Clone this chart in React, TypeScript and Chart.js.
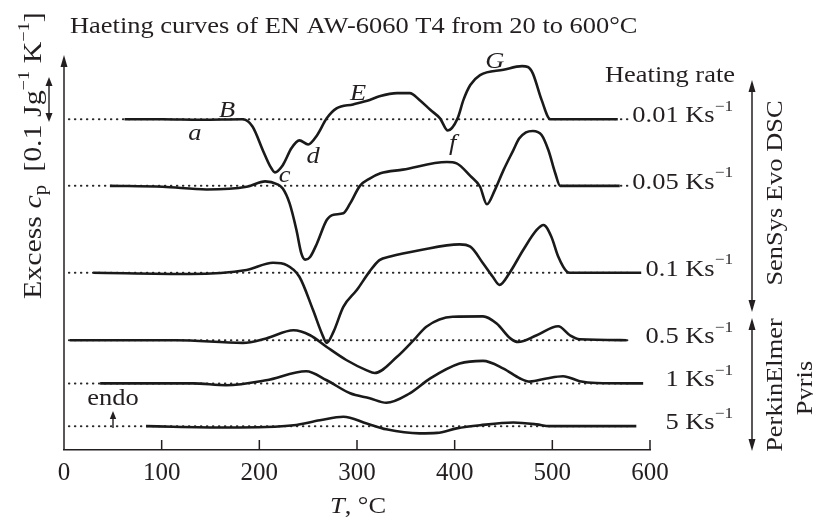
import React, { useEffect, useRef } from 'react';
import { Chart, registerables } from 'chart.js';

Chart.register(...registerables);

// Heating rates (K/s) and vertical offset of each curve's zero line (units of 0.01 J g^-1 K^-1)
const RATES = ['0.01', '0.05', '0.1', '0.5', '1', '5'];
const OFFSETS = [73.5, 58.7, 39.4, 24.4, 14.8, 5.3];
const X_TICKS = [0, 100, 200, 300, 400, 500, 600];
const BASELINE_T = [5, 578];

// Excess cp (0.01 J g^-1 K^-1) vs temperature (°C)
const T_001 = [62, 100, 140, 183, 193, 204, 211, 216, 224, 233, 241, 250, 259, 269, 279, 296, 313, 323, 341, 354, 364, 375, 385, 393, 403, 409, 416, 426, 450, 469, 475, 480, 489, 498, 520, 567];
const CP_001 = [0, 0, -0.1, 0, -1.6, -7.1, -10.4, -11.8, -10.2, -6.4, -4.7, -5.6, -3.6, 0.2, 2.4, 3.3, 4.3, 5.1, 5.8, 5.8, 4.3, 2.1, 0.2, -2.5, 0.2, 4.3, 7.6, 9.8, 11, 11.8, 11.6, 10.2, 4.3, 0, 0, 0];

const T_005 = [47, 101, 146, 187, 206, 218, 224, 231, 238, 243, 247, 252, 259, 269, 276, 286, 293, 303, 313, 324, 347, 392, 402, 416, 426, 433, 441, 450, 460, 466, 473, 480, 489, 496, 503, 508, 569];
const CP_005 = [0, -0.2, -0.8, -0.2, 1, 0.4, -0.6, -3.9, -9.8, -15, -16.4, -15.8, -12.8, -7.6, -6.4, -6.1, -3.9, 0, 1.6, 2.8, 3.6, 5.3, 5, 2.2, -0.2, -4.1, -1, 3.5, 7.9, 10.5, 11.9, 12.2, 11.3, 7.9, 2.8, 0, 0];

const T_01 = [30, 129, 187, 214, 228, 241, 255, 264, 269, 276, 286, 300, 313, 323, 334, 364, 405, 416, 429, 439, 446, 456, 470, 484, 491, 499, 506, 515, 518, 591];
const CP_01 = [0, -0.3, 0.6, 2.2, 1.7, -0.9, -8.3, -13.5, -15.6, -13.1, -7.6, -3.8, 0.3, 2.8, 3.6, 5, 6.3, 5.8, 2.1, -0.9, -2.7, -0.1, 5, 9.5, 10.6, 8, 3.6, 0.2, 0, 0];

const T_05 = [6, 115, 183, 207, 235, 252, 269, 289, 310, 318, 341, 358, 371, 398, 429, 443, 457, 465, 484, 506, 518, 528, 576];
const CP_05 = [0, 0, -0.6, 0.4, 2.2, 1.1, -1.5, -4.4, -6.7, -7.3, -3.7, 0, 3, 5.2, 5.3, 3.7, 0.4, -0.4, 1.1, 3.1, 1.1, 0.2, 0];

const T_1 = [37, 132, 166, 207, 248, 269, 293, 313, 330, 354, 375, 405, 429, 450, 467, 477, 494, 511, 528, 545, 593];
const CP_1 = [0, 0, -0.4, 0.7, 2.7, 0.7, -2.2, -3.3, -4.3, -2.2, 1.1, 4.4, 5, 3.3, 1.1, 0.4, 1.1, 1.6, 0.5, 0.1, 0];

const T_5 = [84, 166, 207, 235, 262, 286, 310, 330, 364, 382, 402, 426, 460, 484, 497, 586];
const CP_5 = [0, -0.3, -0.2, 0.2, 1.3, 2.1, 0.6, -0.7, -1.6, -1.5, -0.5, 0.2, 0.8, 0.4, 0, 0];

const CURVE_T = [T_001, T_005, T_01, T_05, T_1, T_5];
const CURVE_CP = [CP_001, CP_005, CP_01, CP_05, CP_1, CP_5];

// Feature letters on the 0.01 K/s curve
const LETTERS = ['a', 'B', 'c', 'd', 'E', 'f', 'G'];
const LETTER_T = [134, 167, 226, 255, 301, 398, 441];
const LETTER_Y = [68.9, 74, 59.6, 63.8, 77.8, 66.7, 84.9];

const INK = '#231f20';
const SERIF = '"Liberation Serif", "Times New Roman", serif';
const FS = 23;

type Seg = { t: string; it?: boolean; sc?: number; up?: number };

function rich(
  ctx: CanvasRenderingContext2D,
  segs: Seg[],
  x: number,
  y: number,
  size: number,
  align: 'left' | 'center' | 'right',
  rot = 0,
  sx = 1.15
) {
  ctx.save();
  ctx.translate(x, y);
  if (rot) ctx.rotate(rot);
  ctx.scale(sx, 1);
  ctx.textBaseline = 'alphabetic';
  ctx.textAlign = 'left';
  const font = (s: Seg) => `${s.it ? 'italic ' : ''}${Math.round(size * (s.sc || 1))}px ${SERIF}`;
  let w = 0;
  for (const s of segs) {
    ctx.font = font(s);
    w += ctx.measureText(s.t).width;
  }
  let cx = align === 'left' ? 0 : align === 'center' ? -w / 2 : -w;
  for (const s of segs) {
    ctx.font = font(s);
    ctx.fillText(s.t, cx, -(s.up || 0) * size);
    cx += ctx.measureText(s.t).width;
  }
  ctx.restore();
}

function head(ctx: CanvasRenderingContext2D, x: number, y: number, dir: number, len: number, half: number) {
  ctx.beginPath();
  ctx.moveTo(x, y);
  ctx.lineTo(x - half, y - dir * len);
  ctx.lineTo(x + half, y - dir * len);
  ctx.closePath();
  ctx.fill();
}

function dblArrow(ctx: CanvasRenderingContext2D, x: number, y1: number, y2: number, len: number, half: number) {
  ctx.beginPath();
  ctx.moveTo(x, y1 + len * 0.7);
  ctx.lineTo(x, y2 - len * 0.7);
  ctx.stroke();
  head(ctx, x, y1, -1, len, half);
  head(ctx, x, y2, 1, len, half);
}

const decor = {
  id: 'decor',
  afterDraw(chart: any) {
    const { ctx, chartArea: ca, scales } = chart;
    const xs = scales.x;
    const ys = scales.y;
    ctx.save();
    ctx.fillStyle = INK;
    ctx.strokeStyle = INK;
    ctx.lineWidth = 1.5;

    // y axis with arrow
    ctx.beginPath();
    ctx.moveTo(ca.left, ca.bottom);
    ctx.lineTo(ca.left, ca.top + 8);
    ctx.stroke();
    head(ctx, ca.left, ca.top + 1, -1, 12, 3.5);

    // inward tick marks
    for (const v of X_TICKS.slice(1)) {
      const px = xs.getPixelForValue(v);
      ctx.beginPath();
      ctx.moveTo(px, ca.bottom);
      ctx.lineTo(px, ca.bottom - 10);
      ctx.stroke();
    }

    // title
    rich(ctx, [{ t: 'Haeting curves of EN AW-6060 T4 from 20 to 600°C' }], 70, 33, FS, 'left');

    // x title
    rich(ctx, [{ t: 'T', it: true }, { t: ', °C' }], 358, 513, FS, 'center');

    // y title
    rich(ctx, [{ t: 'Excess ' }, { t: 'c', it: true }, { t: 'p', sc: 0.68, up: -0.2 }], 41, 242, 26, 'center', -Math.PI / 2);
    rich(
      ctx,
      [{ t: '[0.1 Jg' }, { t: '−1', sc: 0.62, up: 0.45 }, { t: ' K' }, { t: '−1', sc: 0.62, up: 0.45 }, { t: ']' }],
      41,
      92,
      26,
      'center',
      -Math.PI / 2
    );

    // scale bar
    ctx.lineWidth = 1.4;
    dblArrow(ctx, 49, 77, 122, 9, 3.5);

    // letters
    LETTERS.forEach((l, i) => {
      rich(ctx, [{ t: l, it: true }], xs.getPixelForValue(LETTER_T[i]), ys.getPixelForValue(LETTER_Y[i]), FS, 'center');
    });

    // heating-rate labels
    rich(ctx, [{ t: 'Heating rate' }], 735, 82, FS, 'right');
    RATES.forEach((r, i) => {
      rich(ctx, [{ t: r + ' Ks' }, { t: '−1', sc: 0.65, up: 0.5 }], 733, ys.getPixelForValue(OFFSETS[i]) + 3, FS, 'right');
    });

    // instrument arrows and labels
    ctx.lineWidth = 1.5;
    dblArrow(ctx, 752, 80, 312, 12, 3.5);
    dblArrow(ctx, 752, 318, 451, 12, 3.5);
    rich(ctx, [{ t: 'SenSys Evo DSC' }], 782, 193, FS, 'center', -Math.PI / 2);
    rich(ctx, [{ t: 'PerkinElmer' }], 782, 385, FS, 'center', -Math.PI / 2);
    rich(ctx, [{ t: 'Pyris' }], 812, 388, FS, 'center', -Math.PI / 2);

    // endo marker
    rich(ctx, [{ t: 'endo' }], 113, 405, FS, 'center');
    ctx.lineWidth = 1.4;
    ctx.beginPath();
    ctx.moveTo(113, 428);
    ctx.lineTo(113, 416);
    ctx.stroke();
    head(ctx, 113, 411, -1, 8, 3.2);

    ctx.restore();
  },
};

export default function App() {
  const ref = useRef<HTMLCanvasElement>(null);

  useEffect(() => {
    if (!ref.current) return;
    const baselines = OFFSETS.map((off) => ({
      data: BASELINE_T.map((t) => ({ x: t, y: off })),
      borderColor: '#2a2a2a',
      borderWidth: 2,
      borderDash: [0.5, 5.5],
      borderCapStyle: 'round' as const,
      pointRadius: 0,
      order: 2,
    }));
    const curves = CURVE_T.map((ts, k) => ({
      data: ts.map((t, i) => ({ x: t, y: OFFSETS[k] + CURVE_CP[k][i] })),
      borderColor: '#1a1a1a',
      borderWidth: 2.6,
      pointRadius: 0,
      cubicInterpolationMode: 'monotone' as const,
      order: 1,
    }));
    const chart = new Chart(ref.current, {
      type: 'line',
      data: { datasets: [...baselines, ...curves] as any },
      options: {
        responsive: false,
        animation: false,
        events: [],
        layout: { padding: { left: 64, right: 163, top: 54, bottom: 21 } },
        plugins: { legend: { display: false }, tooltip: { enabled: false } },
        scales: {
          x: {
            type: 'linear',
            min: 0,
            max: 600,
            afterBuildTicks: (s: any) => {
              s.ticks = X_TICKS.map((v) => ({ value: v }));
            },
            grid: { display: false, drawTicks: false },
            border: { display: true, color: INK, width: 1.5 },
            ticks: { font: { family: SERIF, size: 25 }, color: INK, padding: 8, maxRotation: 0 },
          },
          y: { type: 'linear', min: 0, max: 88, display: false },
        },
      },
      plugins: [decor],
    });
    return () => chart.destroy();
  }, []);

  return (
    <div style={{ position: 'absolute', left: 0, top: 0, width: 813, height: 517, background: '#fff' }}>
      <canvas ref={ref} width={813} height={517} style={{ display: 'block' }} />
    </div>
  );
}
